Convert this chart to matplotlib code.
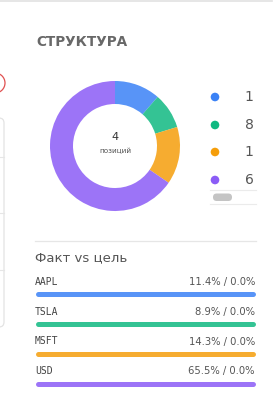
import matplotlib
matplotlib.use("Agg")
import matplotlib.pyplot as plt
from matplotlib.patches import FancyBboxPatch, Circle

W, H = 276, 405
DPI = 100

# ---- data ----
tickers = ["AAPL", "TSLA", "MSFT", "USD"]
fact_pct = [11.4, 8.9, 14.3, 65.5]
target_pct = [0.0, 0.0, 0.0, 0.0]
legend_values = ["1", "8", "1", "6"]
n_positions = 4
colors = ["#3B82F6", "#10B981", "#F59E0B", "#8B5CF6"]
title = "СТРУКТУРА"
center_label = "позиций"
section_title = "Факт vs цель"

fig = plt.figure(figsize=(W / DPI, H / DPI), dpi=DPI)
fig.patch.set_facecolor("white")

# pixel-coordinate background axes
ax = fig.add_axes([0, 0, 1, 1])
ax.set_xlim(0, W)
ax.set_ylim(H, 0)
ax.axis("off")

# top border
ax.plot([0, 272], [0.8, 0.8], color="#E2E2E2", lw=1.2)

# left partial card
ax.add_patch(Circle((-5, 83), 10, fill=False, ec="#E05050", lw=0.9))
ax.add_patch(FancyBboxPatch((-20, 118), 24, 209, boxstyle="round,pad=0,rounding_size=5",
                            fill=False, ec="#E3E3E3", lw=0.9))
for yy in [157, 213, 270]:
    ax.plot([0, 4], [yy, yy], color="#E6E6E6", lw=0.8)

# title
ax.text(36, 41.5, title, fontsize=9.8, fontweight="bold", color="#686868",
        va="center", ha="left", family="DejaVu Sans")

# donut
cx, cy, R = 115, 146, 65
pax = fig.add_axes([(cx - R) / W, (H - cy - R) / H, 2 * R / W, 2 * R / H])
pax.pie(fact_pct, colors=colors, startangle=90, counterclock=False,
        radius=1, wedgeprops=dict(width=23 / 65, alpha=0.85, linewidth=0))
pax.set_xlim(-1, 1)
pax.set_ylim(-1, 1)
pax.set_aspect("auto")
pax.axis("off")

ax.text(cx, 137.5, str(n_positions), fontsize=8, color="#333333", ha="center", va="center")
ax.text(cx, 151, center_label, fontsize=5.2, color="#555555", ha="center", va="center")

# legend
leg_y = [97, 125, 152, 180]
for y, c, v in zip(leg_y, colors, legend_values):
    ax.add_patch(Circle((215, y), 4.3, color=c, lw=0))
    ax.text(244.5, y, v, fontsize=10, color="#555555", ha="left", va="center")
ax.plot([210, 256], [190, 190], color="#EBEBEB", lw=0.8)
ax.plot([210, 256], [204, 204], color="#EBEBEB", lw=0.8)
ax.add_patch(FancyBboxPatch((213, 193.5), 19, 7.5, boxstyle="round,pad=0,rounding_size=3.7",
                            fc="#C4C4C4", ec="none"))

# separator
ax.plot([35, 256], [241, 241], color="#E6E6E6", lw=0.9)
ax.text(35, 257.5, section_title, fontsize=9.5, color="#555555", ha="left", va="center")

# rows
bx0, bx1 = 37.5, 252.5
label_y = [282, 312, 341.5, 371]
bar_y = [294, 324, 354, 384]
for t, f, g, c, ly, by in zip(tickers, fact_pct, target_pct, colors, label_y, bar_y):
    ax.text(35, ly, t, fontsize=7, family="DejaVu Sans Mono", color="#444444",
            ha="left", va="center")
    ax.text(255, ly, f"{f:.1f}% / {g:.1f}%", fontsize=7.2, color="#555555",
            ha="right", va="center")
    ax.plot([bx0, bx1], [by, by], color=c, lw=3.6, alpha=0.85, solid_capstyle="round")

fig.savefig("out.png", dpi=DPI, facecolor="white")
